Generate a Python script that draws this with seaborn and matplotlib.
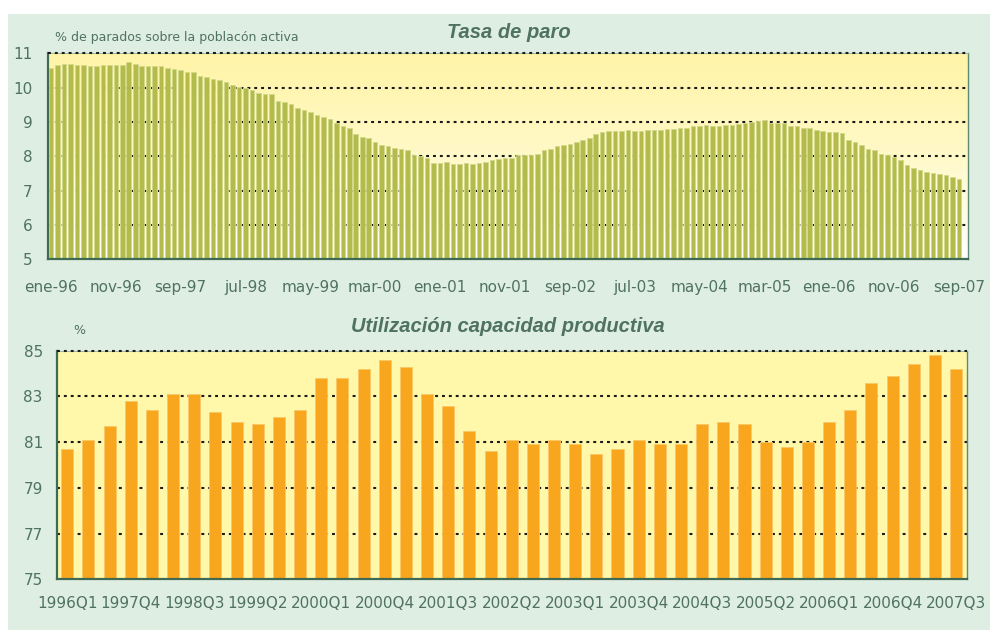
import numpy as np
import pandas as pd
import matplotlib
matplotlib.use("Agg")
import matplotlib.pyplot as plt
import seaborn as sns
from matplotlib.patches import Rectangle
from matplotlib.colors import LinearSegmentedColormap

# ---------------- data ----------------
meses = ['ene', 'feb', 'mar', 'abr', 'may', 'jun', 'jul', 'ago', 'sep', 'oct', 'nov', 'dic']
mes_labels = [f"{m}-{y % 100:02d}" for y in range(1996, 2008) for m in meses][:141]

tasa_paro = [
    10.58, 10.65, 10.68, 10.68, 10.65, 10.65, 10.62, 10.62, 10.65, 10.65,
    10.65, 10.65, 10.76, 10.68, 10.62, 10.62, 10.62, 10.62, 10.58, 10.53,
    10.50, 10.45, 10.45, 10.35, 10.32, 10.25, 10.21, 10.15, 10.08, 10.02,
    10.00, 9.92, 9.84, 9.81, 9.81, 9.62, 9.57, 9.51, 9.42, 9.35,
    9.28, 9.21, 9.15, 9.08, 8.97, 8.88, 8.81, 8.66, 8.57, 8.54,
    8.41, 8.34, 8.31, 8.25, 8.21, 8.18, 8.05, 8.02, 7.95, 7.81,
    7.81, 7.84, 7.78, 7.78, 7.81, 7.78, 7.81, 7.84, 7.90, 7.92,
    7.94, 7.94, 8.03, 8.04, 8.04, 8.07, 8.17, 8.21, 8.31, 8.33,
    8.37, 8.41, 8.47, 8.54, 8.64, 8.71, 8.74, 8.74, 8.74, 8.77,
    8.74, 8.74, 8.77, 8.77, 8.77, 8.80, 8.80, 8.83, 8.83, 8.87,
    8.87, 8.90, 8.87, 8.87, 8.90, 8.90, 8.94, 8.97, 9.01, 9.04,
    9.07, 8.97, 8.97, 8.97, 8.87, 8.87, 8.83, 8.81, 8.77, 8.74,
    8.71, 8.71, 8.67, 8.47, 8.41, 8.34, 8.21, 8.18, 8.07, 8.04,
    7.98, 7.88, 7.75, 7.67, 7.60, 7.54, 7.50, 7.48, 7.45, 7.41,
    7.34,
]
tick_labels_mes = ['ene-96', 'nov-96', 'sep-97', 'jul-98', 'may-99', 'mar-00', 'ene-01',
                   'nov-01', 'sep-02', 'jul-03', 'may-04', 'mar-05', 'ene-06', 'nov-06', 'sep-07']

trimestres = [f"{y}Q{q}" for y in range(1997, 2008) for q in range(1, 5)][:43]
capacidad = [
    80.7, 81.1, 81.7, 82.8, 82.4, 83.1, 83.1, 82.3, 81.9, 81.8,
    82.1, 82.4, 83.8, 83.8, 84.2, 84.6, 84.3, 83.1, 82.6, 81.5,
    80.6, 81.1, 80.9, 81.1, 80.9, 80.5, 80.7, 81.1, 80.9, 80.9,
    81.8, 81.9, 81.8, 81.0, 80.8, 81.0, 81.9, 82.4, 83.6, 83.9,
    84.4, 84.8, 84.2,
]
tick_labels_trim = ['1996Q1', '1997Q4', '1998Q3', '1999Q2', '2000Q1', '2000Q4', '2001Q3',
                    '2002Q2', '2003Q1', '2003Q4', '2004Q3', '2005Q2', '2006Q1', '2006Q4', '2007Q3']

# ---------------- style ----------------
W, H = 990, 630
BG = "#dfeee2"
TXT = "#4f7262"
SPINE = "#3f6b55"
OLIVE = "#b2bb4b"
OLIVE_EDGE = "#d3d98a"
ORANGE = "#f9a61f"
ORANGE_EDGE = "#fbc867"
YELLOW = "#fff7aa"

sns.set_theme(style="white")
plt.rcParams['font.family'] = ['DejaVu Sans']

fig = plt.figure(figsize=(W / 100, H / 100), dpi=100)
fig.patch.set_facecolor("white")
fig.patches.append(Rectangle((8 / W, 0), 1 - 8 / W, (H - 14) / H, transform=fig.transFigure,
                             facecolor=BG, edgecolor="none", zorder=-10))


def px_axes(x0, y0, x1, y1):
    return fig.add_axes([x0 / W, 1 - y1 / H, (x1 - x0) / W, (y1 - y0) / H])


grid_kw = dict(color="#1a1a1a", linewidth=1.5, linestyle=(0, (1.4, 1.9)))

# ---------------- top chart ----------------
ax1 = px_axes(47.7, 53.3, 968, 259.3)
ax1.set_facecolor("none")
grad = LinearSegmentedColormap.from_list("g", ["#ffffff", "#fff9c8", "#fff4a6"])
ax1.imshow(np.linspace(0, 1, 256).reshape(-1, 1)[::-1], cmap=grad, aspect="auto",
           extent=[0, 1, 0, 1], transform=ax1.transAxes, zorder=0)

df1 = pd.DataFrame({"mes": mes_labels, "tasa": tasa_paro})
sns.barplot(data=df1, x="mes", y="tasa", color=OLIVE, saturation=1, width=0.7,
            edgecolor=OLIVE_EDGE, linewidth=0.6, ax=ax1, zorder=2)
ax1.set_xlim(-0.5, 141.4)
ax1.set_ylim(5, 11)
ax1.set_yticks(range(5, 12))
for yv in range(6, 12):
    ax1.axhline(yv, zorder=1 if yv < 11 else 4, clip_on=False, **grid_kw)

idx_ticks = np.arange(0, 141, 10)
ax1.set_xticks(idx_ticks - 0.5)
ax1.set_xticklabels([])
ax1.set_xticks(idx_ticks, minor=True)
ax1.set_xticklabels(tick_labels_mes, minor=True)
ax1.tick_params(axis="x", which="major", length=4, width=1.2, color=SPINE, direction="out")
ax1.tick_params(axis="x", which="minor", length=0, pad=15, labelsize=11, labelcolor=TXT)
ax1.tick_params(axis="y", length=4, width=1.2, color=SPINE, direction="out", pad=7,
                labelsize=11, labelcolor=TXT)
ax1.set_xlabel("")
ax1.set_ylabel("")

# ---------------- bottom chart ----------------
ax2 = px_axes(56.7, 350.7, 966.7, 579.3)
ax2.set_facecolor(YELLOW)
df2 = pd.DataFrame({"trim": trimestres, "cap": capacidad})
sns.barplot(data=df2, x="trim", y="cap", color=ORANGE, saturation=1, width=0.57,
            edgecolor=ORANGE_EDGE, linewidth=0.6, ax=ax2, zorder=2)
ax2.set_xlim(-0.5, 42.5)
ax2.set_ylim(75, 85)
ax2.set_yticks(range(75, 86, 2))
for yv in range(77, 86, 2):
    ax2.axhline(yv, zorder=1 if yv < 85 else 4, clip_on=False, **grid_kw)

ax2.set_xticks(np.arange(0, 44) - 0.5)
ax2.set_xticklabels([])
ax2.set_xticks(np.arange(0, 43, 3), minor=True)
ax2.set_xticklabels(tick_labels_trim, minor=True)
ax2.tick_params(axis="x", which="major", length=4, width=1.2, color=SPINE, direction="out")
ax2.tick_params(axis="x", which="minor", length=0, pad=12, labelsize=11, labelcolor=TXT)
ax2.tick_params(axis="y", length=4, width=1.2, color=SPINE, direction="out", pad=6,
                labelsize=11, labelcolor=TXT)
ax2.set_xlabel("")
ax2.set_ylabel("")

for ax in (ax1, ax2):
    for s in ("left", "bottom"):
        ax.spines[s].set_color(SPINE)
        ax.spines[s].set_linewidth(1.6)
        ax.spines[s].set_zorder(3)
    ax.spines["right"].set_color("#5f8a72")
    ax.spines["right"].set_linewidth(1.0)
    ax.spines["top"].set_color("#8fae98")
    ax.spines["top"].set_linewidth(0.6)

# ---------------- texts ----------------
tfont = dict(family=["Liberation Sans", "DejaVu Sans"], weight="bold", style="italic",
             color=TXT, fontsize=14.5)
fig.text(509 / W, 1 - 33 / H, "Tasa de paro", ha="center", va="center", **tfont)
fig.text(508 / W, 1 - 326 / H, "Utilización capacidad productiva", ha="center", va="center", **tfont)
fig.text(55 / W, 1 - 38 / H, "% de parados sobre la poblacón activa", ha="left", va="center",
         fontsize=9, color=TXT)
fig.text(73 / W, 1 - 331 / H, "%", ha="left", va="center", fontsize=9, color=TXT)

fig.savefig("out.png", dpi=100, facecolor=fig.get_facecolor())
